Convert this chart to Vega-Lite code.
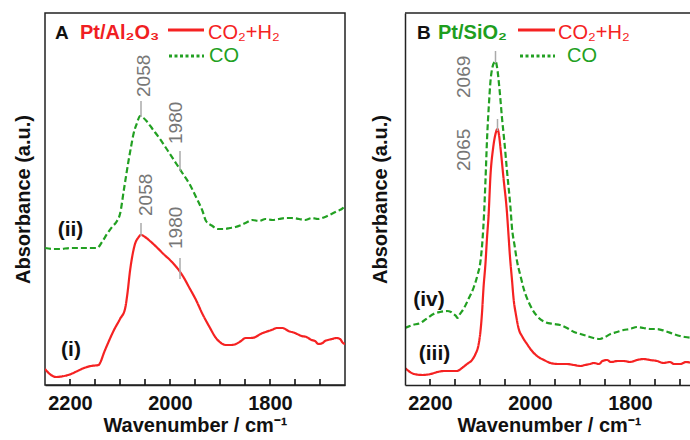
{
  "$schema": "https://vega.github.io/schema/vega-lite/v6.json",
  "padding": {"left": 12, "top": 12, "right": 0, "bottom": 0},
  "spacing": 24,
  "background": "white",
  "config": {
    "view": {"stroke": "#222", "strokeWidth": 1.5},
    "font": "Liberation Sans"
  },
  "datasets": {
    "curves": [
      {"panel": "A", "series": "CO2+H2", "wn": 2250, "a": 16},
      {"panel": "A", "series": "CO2+H2", "wn": 2238, "a": 10},
      {"panel": "A", "series": "CO2+H2", "wn": 2228, "a": 8},
      {"panel": "A", "series": "CO2+H2", "wn": 2212, "a": 9},
      {"panel": "A", "series": "CO2+H2", "wn": 2198, "a": 11},
      {"panel": "A", "series": "CO2+H2", "wn": 2185, "a": 14},
      {"panel": "A", "series": "CO2+H2", "wn": 2172, "a": 17},
      {"panel": "A", "series": "CO2+H2", "wn": 2158, "a": 19},
      {"panel": "A", "series": "CO2+H2", "wn": 2143, "a": 20},
      {"panel": "A", "series": "CO2+H2", "wn": 2138, "a": 24},
      {"panel": "A", "series": "CO2+H2", "wn": 2133, "a": 31},
      {"panel": "A", "series": "CO2+H2", "wn": 2123, "a": 43},
      {"panel": "A", "series": "CO2+H2", "wn": 2113, "a": 54},
      {"panel": "A", "series": "CO2+H2", "wn": 2100, "a": 66},
      {"panel": "A", "series": "CO2+H2", "wn": 2090, "a": 76},
      {"panel": "A", "series": "CO2+H2", "wn": 2085, "a": 92},
      {"panel": "A", "series": "CO2+H2", "wn": 2080, "a": 114},
      {"panel": "A", "series": "CO2+H2", "wn": 2075, "a": 130},
      {"panel": "A", "series": "CO2+H2", "wn": 2070, "a": 141},
      {"panel": "A", "series": "CO2+H2", "wn": 2064, "a": 147},
      {"panel": "A", "series": "CO2+H2", "wn": 2058, "a": 150},
      {"panel": "A", "series": "CO2+H2", "wn": 2050, "a": 148},
      {"panel": "A", "series": "CO2+H2", "wn": 2040, "a": 144},
      {"panel": "A", "series": "CO2+H2", "wn": 2027, "a": 138},
      {"panel": "A", "series": "CO2+H2", "wn": 2013, "a": 131},
      {"panel": "A", "series": "CO2+H2", "wn": 1998, "a": 124},
      {"panel": "A", "series": "CO2+H2", "wn": 1984, "a": 116},
      {"panel": "A", "series": "CO2+H2", "wn": 1972, "a": 107},
      {"panel": "A", "series": "CO2+H2", "wn": 1961, "a": 97},
      {"panel": "A", "series": "CO2+H2", "wn": 1948, "a": 85},
      {"panel": "A", "series": "CO2+H2", "wn": 1935, "a": 71},
      {"panel": "A", "series": "CO2+H2", "wn": 1921, "a": 58},
      {"panel": "A", "series": "CO2+H2", "wn": 1908, "a": 47},
      {"panel": "A", "series": "CO2+H2", "wn": 1898, "a": 42},
      {"panel": "A", "series": "CO2+H2", "wn": 1888, "a": 40},
      {"panel": "A", "series": "CO2+H2", "wn": 1878, "a": 40},
      {"panel": "A", "series": "CO2+H2", "wn": 1868, "a": 41},
      {"panel": "A", "series": "CO2+H2", "wn": 1858, "a": 44},
      {"panel": "A", "series": "CO2+H2", "wn": 1849, "a": 47},
      {"panel": "A", "series": "CO2+H2", "wn": 1839, "a": 47},
      {"panel": "A", "series": "CO2+H2", "wn": 1829, "a": 48},
      {"panel": "A", "series": "CO2+H2", "wn": 1819, "a": 51},
      {"panel": "A", "series": "CO2+H2", "wn": 1809, "a": 53},
      {"panel": "A", "series": "CO2+H2", "wn": 1797, "a": 55},
      {"panel": "A", "series": "CO2+H2", "wn": 1786, "a": 57},
      {"panel": "A", "series": "CO2+H2", "wn": 1775, "a": 57},
      {"panel": "A", "series": "CO2+H2", "wn": 1763, "a": 54},
      {"panel": "A", "series": "CO2+H2", "wn": 1750, "a": 52},
      {"panel": "A", "series": "CO2+H2", "wn": 1737, "a": 49},
      {"panel": "A", "series": "CO2+H2", "wn": 1727, "a": 48},
      {"panel": "A", "series": "CO2+H2", "wn": 1717, "a": 45},
      {"panel": "A", "series": "CO2+H2", "wn": 1710, "a": 44},
      {"panel": "A", "series": "CO2+H2", "wn": 1703, "a": 41},
      {"panel": "A", "series": "CO2+H2", "wn": 1695, "a": 42},
      {"panel": "A", "series": "CO2+H2", "wn": 1690, "a": 44},
      {"panel": "A", "series": "CO2+H2", "wn": 1684, "a": 45},
      {"panel": "A", "series": "CO2+H2", "wn": 1676, "a": 46},
      {"panel": "A", "series": "CO2+H2", "wn": 1667, "a": 47},
      {"panel": "A", "series": "CO2+H2", "wn": 1660, "a": 46},
      {"panel": "A", "series": "CO2+H2", "wn": 1654, "a": 42},
      {"panel": "A", "series": "CO2+H2", "wn": 1650, "a": 41},
      {"panel": "A", "series": "CO", "wn": 2250, "a": 137},
      {"panel": "A", "series": "CO", "wn": 2235, "a": 136},
      {"panel": "A", "series": "CO", "wn": 2220, "a": 136},
      {"panel": "A", "series": "CO", "wn": 2200, "a": 137},
      {"panel": "A", "series": "CO", "wn": 2180, "a": 137},
      {"panel": "A", "series": "CO", "wn": 2160, "a": 137},
      {"panel": "A", "series": "CO", "wn": 2146, "a": 137},
      {"panel": "A", "series": "CO", "wn": 2136, "a": 143},
      {"panel": "A", "series": "CO", "wn": 2126, "a": 151},
      {"panel": "A", "series": "CO", "wn": 2116, "a": 158},
      {"panel": "A", "series": "CO", "wn": 2106, "a": 164},
      {"panel": "A", "series": "CO", "wn": 2100, "a": 171},
      {"panel": "A", "series": "CO", "wn": 2092, "a": 196},
      {"panel": "A", "series": "CO", "wn": 2083, "a": 224},
      {"panel": "A", "series": "CO", "wn": 2078, "a": 238},
      {"panel": "A", "series": "CO", "wn": 2073, "a": 251},
      {"panel": "A", "series": "CO", "wn": 2066, "a": 262},
      {"panel": "A", "series": "CO", "wn": 2060, "a": 269},
      {"panel": "A", "series": "CO", "wn": 2053, "a": 267},
      {"panel": "A", "series": "CO", "wn": 2047, "a": 264},
      {"panel": "A", "series": "CO", "wn": 2035, "a": 256},
      {"panel": "A", "series": "CO", "wn": 2020, "a": 246},
      {"panel": "A", "series": "CO", "wn": 2004, "a": 234},
      {"panel": "A", "series": "CO", "wn": 1987, "a": 221},
      {"panel": "A", "series": "CO", "wn": 1974, "a": 211},
      {"panel": "A", "series": "CO", "wn": 1961, "a": 201},
      {"panel": "A", "series": "CO", "wn": 1948, "a": 188},
      {"panel": "A", "series": "CO", "wn": 1935, "a": 174},
      {"panel": "A", "series": "CO", "wn": 1928, "a": 164},
      {"panel": "A", "series": "CO", "wn": 1915, "a": 159},
      {"panel": "A", "series": "CO", "wn": 1905, "a": 156},
      {"panel": "A", "series": "CO", "wn": 1892, "a": 156},
      {"panel": "A", "series": "CO", "wn": 1880, "a": 157},
      {"panel": "A", "series": "CO", "wn": 1869, "a": 158},
      {"panel": "A", "series": "CO", "wn": 1858, "a": 160},
      {"panel": "A", "series": "CO", "wn": 1849, "a": 162},
      {"panel": "A", "series": "CO", "wn": 1835, "a": 165},
      {"panel": "A", "series": "CO", "wn": 1822, "a": 164},
      {"panel": "A", "series": "CO", "wn": 1809, "a": 166},
      {"panel": "A", "series": "CO", "wn": 1795, "a": 165},
      {"panel": "A", "series": "CO", "wn": 1782, "a": 166},
      {"panel": "A", "series": "CO", "wn": 1769, "a": 167},
      {"panel": "A", "series": "CO", "wn": 1756, "a": 167},
      {"panel": "A", "series": "CO", "wn": 1742, "a": 166},
      {"panel": "A", "series": "CO", "wn": 1730, "a": 165},
      {"panel": "A", "series": "CO", "wn": 1716, "a": 167},
      {"panel": "A", "series": "CO", "wn": 1704, "a": 166},
      {"panel": "A", "series": "CO", "wn": 1690, "a": 168},
      {"panel": "A", "series": "CO", "wn": 1677, "a": 171},
      {"panel": "A", "series": "CO", "wn": 1665, "a": 174},
      {"panel": "A", "series": "CO", "wn": 1654, "a": 177},
      {"panel": "A", "series": "CO", "wn": 1650, "a": 180},
      {"panel": "B", "series": "CO2+H2", "wn": 2250, "a": 17},
      {"panel": "B", "series": "CO2+H2", "wn": 2240, "a": 13},
      {"panel": "B", "series": "CO2+H2", "wn": 2232, "a": 11},
      {"panel": "B", "series": "CO2+H2", "wn": 2215, "a": 10},
      {"panel": "B", "series": "CO2+H2", "wn": 2199, "a": 11},
      {"panel": "B", "series": "CO2+H2", "wn": 2185, "a": 13},
      {"panel": "B", "series": "CO2+H2", "wn": 2172, "a": 14},
      {"panel": "B", "series": "CO2+H2", "wn": 2160, "a": 14},
      {"panel": "B", "series": "CO2+H2", "wn": 2146, "a": 14},
      {"panel": "B", "series": "CO2+H2", "wn": 2136, "a": 17},
      {"panel": "B", "series": "CO2+H2", "wn": 2126, "a": 21},
      {"panel": "B", "series": "CO2+H2", "wn": 2116, "a": 25},
      {"panel": "B", "series": "CO2+H2", "wn": 2109, "a": 31},
      {"panel": "B", "series": "CO2+H2", "wn": 2103, "a": 40},
      {"panel": "B", "series": "CO2+H2", "wn": 2099, "a": 54},
      {"panel": "B", "series": "CO2+H2", "wn": 2096, "a": 72},
      {"panel": "B", "series": "CO2+H2", "wn": 2093, "a": 97},
      {"panel": "B", "series": "CO2+H2", "wn": 2089, "a": 122},
      {"panel": "B", "series": "CO2+H2", "wn": 2086, "a": 147},
      {"panel": "B", "series": "CO2+H2", "wn": 2083, "a": 168},
      {"panel": "B", "series": "CO2+H2", "wn": 2079, "a": 210},
      {"panel": "B", "series": "CO2+H2", "wn": 2074, "a": 236},
      {"panel": "B", "series": "CO2+H2", "wn": 2069, "a": 251},
      {"panel": "B", "series": "CO2+H2", "wn": 2065, "a": 256},
      {"panel": "B", "series": "CO2+H2", "wn": 2062, "a": 250},
      {"panel": "B", "series": "CO2+H2", "wn": 2059, "a": 237},
      {"panel": "B", "series": "CO2+H2", "wn": 2053, "a": 207},
      {"panel": "B", "series": "CO2+H2", "wn": 2046, "a": 172},
      {"panel": "B", "series": "CO2+H2", "wn": 2043, "a": 150},
      {"panel": "B", "series": "CO2+H2", "wn": 2040, "a": 128},
      {"panel": "B", "series": "CO2+H2", "wn": 2036, "a": 105},
      {"panel": "B", "series": "CO2+H2", "wn": 2033, "a": 87},
      {"panel": "B", "series": "CO2+H2", "wn": 2028, "a": 70},
      {"panel": "B", "series": "CO2+H2", "wn": 2023, "a": 57},
      {"panel": "B", "series": "CO2+H2", "wn": 2015, "a": 48},
      {"panel": "B", "series": "CO2+H2", "wn": 2006, "a": 41},
      {"panel": "B", "series": "CO2+H2", "wn": 1996, "a": 34},
      {"panel": "B", "series": "CO2+H2", "wn": 1986, "a": 29},
      {"panel": "B", "series": "CO2+H2", "wn": 1972, "a": 25},
      {"panel": "B", "series": "CO2+H2", "wn": 1959, "a": 22},
      {"panel": "B", "series": "CO2+H2", "wn": 1945, "a": 21},
      {"panel": "B", "series": "CO2+H2", "wn": 1926, "a": 21},
      {"panel": "B", "series": "CO2+H2", "wn": 1912, "a": 20},
      {"panel": "B", "series": "CO2+H2", "wn": 1899, "a": 19},
      {"panel": "B", "series": "CO2+H2", "wn": 1890, "a": 20},
      {"panel": "B", "series": "CO2+H2", "wn": 1880, "a": 21},
      {"panel": "B", "series": "CO2+H2", "wn": 1872, "a": 22},
      {"panel": "B", "series": "CO2+H2", "wn": 1862, "a": 21},
      {"panel": "B", "series": "CO2+H2", "wn": 1855, "a": 24},
      {"panel": "B", "series": "CO2+H2", "wn": 1846, "a": 25},
      {"panel": "B", "series": "CO2+H2", "wn": 1838, "a": 23},
      {"panel": "B", "series": "CO2+H2", "wn": 1825, "a": 24},
      {"panel": "B", "series": "CO2+H2", "wn": 1812, "a": 24},
      {"panel": "B", "series": "CO2+H2", "wn": 1800, "a": 23},
      {"panel": "B", "series": "CO2+H2", "wn": 1786, "a": 25},
      {"panel": "B", "series": "CO2+H2", "wn": 1773, "a": 26},
      {"panel": "B", "series": "CO2+H2", "wn": 1760, "a": 25},
      {"panel": "B", "series": "CO2+H2", "wn": 1746, "a": 24},
      {"panel": "B", "series": "CO2+H2", "wn": 1733, "a": 22},
      {"panel": "B", "series": "CO2+H2", "wn": 1720, "a": 23},
      {"panel": "B", "series": "CO2+H2", "wn": 1712, "a": 21},
      {"panel": "B", "series": "CO2+H2", "wn": 1699, "a": 21},
      {"panel": "B", "series": "CO2+H2", "wn": 1688, "a": 23},
      {"panel": "B", "series": "CO2+H2", "wn": 1676, "a": 22},
      {"panel": "B", "series": "CO", "wn": 2250, "a": 57},
      {"panel": "B", "series": "CO", "wn": 2235, "a": 60},
      {"panel": "B", "series": "CO", "wn": 2219, "a": 62},
      {"panel": "B", "series": "CO", "wn": 2205, "a": 67},
      {"panel": "B", "series": "CO", "wn": 2193, "a": 71},
      {"panel": "B", "series": "CO", "wn": 2180, "a": 73},
      {"panel": "B", "series": "CO", "wn": 2166, "a": 74},
      {"panel": "B", "series": "CO", "wn": 2158, "a": 73},
      {"panel": "B", "series": "CO", "wn": 2153, "a": 71},
      {"panel": "B", "series": "CO", "wn": 2148, "a": 69},
      {"panel": "B", "series": "CO", "wn": 2145, "a": 67},
      {"panel": "B", "series": "CO", "wn": 2140, "a": 71},
      {"panel": "B", "series": "CO", "wn": 2133, "a": 76},
      {"panel": "B", "series": "CO", "wn": 2123, "a": 86},
      {"panel": "B", "series": "CO", "wn": 2113, "a": 97},
      {"panel": "B", "series": "CO", "wn": 2105, "a": 110},
      {"panel": "B", "series": "CO", "wn": 2099, "a": 124},
      {"panel": "B", "series": "CO", "wn": 2095, "a": 145},
      {"panel": "B", "series": "CO", "wn": 2092, "a": 170},
      {"panel": "B", "series": "CO", "wn": 2089, "a": 205},
      {"panel": "B", "series": "CO", "wn": 2086, "a": 245},
      {"panel": "B", "series": "CO", "wn": 2082, "a": 282},
      {"panel": "B", "series": "CO", "wn": 2079, "a": 304},
      {"panel": "B", "series": "CO", "wn": 2075, "a": 318},
      {"panel": "B", "series": "CO", "wn": 2071, "a": 323},
      {"panel": "B", "series": "CO", "wn": 2069, "a": 324},
      {"panel": "B", "series": "CO", "wn": 2066, "a": 318},
      {"panel": "B", "series": "CO", "wn": 2061, "a": 296},
      {"panel": "B", "series": "CO", "wn": 2056, "a": 267},
      {"panel": "B", "series": "CO", "wn": 2051, "a": 242},
      {"panel": "B", "series": "CO", "wn": 2046, "a": 214},
      {"panel": "B", "series": "CO", "wn": 2039, "a": 177},
      {"panel": "B", "series": "CO", "wn": 2036, "a": 157},
      {"panel": "B", "series": "CO", "wn": 2031, "a": 140},
      {"panel": "B", "series": "CO", "wn": 2026, "a": 124},
      {"panel": "B", "series": "CO", "wn": 2019, "a": 109},
      {"panel": "B", "series": "CO", "wn": 2013, "a": 97},
      {"panel": "B", "series": "CO", "wn": 2000, "a": 80},
      {"panel": "B", "series": "CO", "wn": 1986, "a": 69},
      {"panel": "B", "series": "CO", "wn": 1970, "a": 63},
      {"panel": "B", "series": "CO", "wn": 1953, "a": 61},
      {"panel": "B", "series": "CO", "wn": 1940, "a": 60},
      {"panel": "B", "series": "CO", "wn": 1926, "a": 57},
      {"panel": "B", "series": "CO", "wn": 1912, "a": 53},
      {"panel": "B", "series": "CO", "wn": 1899, "a": 51},
      {"panel": "B", "series": "CO", "wn": 1886, "a": 49},
      {"panel": "B", "series": "CO", "wn": 1873, "a": 47},
      {"panel": "B", "series": "CO", "wn": 1860, "a": 46},
      {"panel": "B", "series": "CO", "wn": 1850, "a": 48},
      {"panel": "B", "series": "CO", "wn": 1839, "a": 51},
      {"panel": "B", "series": "CO", "wn": 1826, "a": 53},
      {"panel": "B", "series": "CO", "wn": 1813, "a": 55},
      {"panel": "B", "series": "CO", "wn": 1800, "a": 56},
      {"panel": "B", "series": "CO", "wn": 1786, "a": 58},
      {"panel": "B", "series": "CO", "wn": 1773, "a": 57},
      {"panel": "B", "series": "CO", "wn": 1760, "a": 56},
      {"panel": "B", "series": "CO", "wn": 1746, "a": 56},
      {"panel": "B", "series": "CO", "wn": 1730, "a": 54},
      {"panel": "B", "series": "CO", "wn": 1713, "a": 51},
      {"panel": "B", "series": "CO", "wn": 1700, "a": 49},
      {"panel": "B", "series": "CO", "wn": 1690, "a": 48},
      {"panel": "B", "series": "CO", "wn": 1676, "a": 47}
    ],
    "axisTicks": [
      {"wn": 2200, "a": 0, "a2": 6}, {"wn": 2150, "a": 0, "a2": 6}, {"wn": 2100, "a": 0, "a2": 6},
      {"wn": 2050, "a": 0, "a2": 6}, {"wn": 2000, "a": 0, "a2": 6}, {"wn": 1950, "a": 0, "a2": 6},
      {"wn": 1900, "a": 0, "a2": 6}, {"wn": 1850, "a": 0, "a2": 6}, {"wn": 1800, "a": 0, "a2": 6},
      {"wn": 1750, "a": 0, "a2": 6}, {"wn": 1700, "a": 0, "a2": 6}
    ],
    "peakTicks": [
      {"panel": "A", "wn": 2058, "a": 268, "a2": 284},
      {"panel": "A", "wn": 1980, "a": 214, "a2": 234},
      {"panel": "A", "wn": 2058, "a": 149, "a2": 162},
      {"panel": "A", "wn": 1980, "a": 106, "a2": 127},
      {"panel": "B", "wn": 2069, "a": 322, "a2": 334},
      {"panel": "B", "wn": 2065, "a": 254, "a2": 266}
    ],
    "peakLabels": [
      {"panel": "A", "wn": 2052, "a": 288, "label": "2058"},
      {"panel": "A", "wn": 1988, "a": 241, "label": "1980"},
      {"panel": "A", "wn": 2048, "a": 169, "label": "2058"},
      {"panel": "A", "wn": 1988, "a": 136, "label": "1980"},
      {"panel": "B", "wn": 2132, "a": 287, "label": "2069"},
      {"panel": "B", "wn": 2132, "a": 214, "label": "2065"}
    ],
    "curveLabels": [
      {"panel": "A", "wn": 2199, "a": 155, "label": "(ii)"},
      {"panel": "A", "wn": 2198, "a": 35, "label": "(i)"},
      {"panel": "B", "wn": 2202, "a": 85, "label": "(iv)"},
      {"panel": "B", "wn": 2191, "a": 31, "label": "(iii)"}
    ],
    "headings": [
      {"panel": "A", "role": "letter", "wn": 2230, "a": 346, "label": "A"},
      {"panel": "A", "role": "catalyst", "wn": 2180, "a": 346, "label": "Pt/Al₂O₃"},
      {"panel": "B", "role": "letter", "wn": 2226, "a": 346, "label": "B"},
      {"panel": "B", "role": "catalyst", "wn": 2184, "a": 346, "label": "Pt/SiO₂"}
    ],
    "keys": [
      {"panel": "A", "series": "CO2+H2", "wn": 2004, "wn2": 1932, "a": 355},
      {"panel": "A", "series": "CO", "wn": 2002, "wn2": 1932, "a": 329},
      {"panel": "B", "series": "CO2+H2", "wn": 2024, "wn2": 1950, "a": 355},
      {"panel": "B", "series": "CO", "wn": 2020, "wn2": 1950, "a": 329}
    ],
    "keyLabels": [
      {"panel": "A", "series": "CO2+H2", "wn": 1924, "a": 346, "label": "CO₂+H₂"},
      {"panel": "A", "series": "CO", "wn": 1922, "a": 323, "label": "CO"},
      {"panel": "B", "series": "CO2+H2", "wn": 1944, "a": 346, "label": "CO₂+H₂"},
      {"panel": "B", "series": "CO", "wn": 1926, "a": 323, "label": "CO"}
    ],
    "frame": [
      {"panel": "B", "wn": 2250, "wn2": 1676, "a": 372}
    ]
  },
  "hconcat": [
    {
      "width": 300,
      "height": 372,
      "encoding": {
        "x": {"field": "wn", "type": "quantitative",
          "scale": {"domain": [1650, 2250], "reverse": true, "nice": false, "zero": false},
          "axis": {"title": "Wavenumber / cm⁻¹", "values": [2200, 2000, 1800],
            "format": "d", "grid": false, "ticks": false, "zindex": 1,
            "domainColor": "#222", "domainWidth": 1.5,
            "labelFont": "Liberation Sans", "labelFontWeight": "bold", "labelFontSize": 20, "labelColor": "#111", "labelPadding": 8,
            "labelOverlap": false, "labelFlush": false,
            "titleFont": "Liberation Sans", "titleFontWeight": "bold", "titleFontSize": 20, "titleColor": "#111", "titlePadding": 2}},
        "y": {"field": "a", "type": "quantitative",
          "scale": {"domain": [0, 372], "nice": false, "zero": false},
          "axis": {"title": "Absorbance (a.u.)", "labels": false, "ticks": false, "domain": false, "grid": false,
            "titleFont": "Liberation Sans", "titleFontWeight": "bold", "titleFontSize": 20, "titleColor": "#111", "titlePadding": 12}}
      },
      "layer": [
        {"data": {"name": "axisTicks"},
          "mark": {"type": "rule", "strokeWidth": 1.6, "color": "#111"},
          "encoding": {"y2": {"field": "a2"}}},
        {"data": {"name": "curves"}, "transform": [{"filter": "datum.panel === 'A'"}],
          "mark": {"type": "line", "clip": true, "interpolate": "monotone", "strokeWidth": 2.2},
          "encoding": {
            "color": {"field": "series", "type": "nominal", "scale": {"domain": ["CO2+H2", "CO"], "range": ["#f52222", "#22a022"]}, "legend": null},
            "strokeDash": {"field": "series", "type": "nominal", "scale": {"domain": ["CO2+H2", "CO"], "range": [[1, 0], [6, 3]]}, "legend": null}
          }},
        {"data": {"name": "peakTicks"}, "transform": [{"filter": "datum.panel === 'A'"}],
          "mark": {"type": "rule", "color": "#aaaaaa", "strokeWidth": 1.5},
          "encoding": {"y2": {"field": "a2"}}},
        {"data": {"name": "peakLabels"}, "transform": [{"filter": "datum.panel === 'A'"}],
          "mark": {"type": "text", "angle": 270, "align": "left", "baseline": "middle", "font": "Liberation Sans", "fontSize": 19, "color": "#777777"},
          "encoding": {"text": {"field": "label"}}},
        {"data": {"name": "curveLabels"}, "transform": [{"filter": "datum.panel === 'A'"}],
          "mark": {"type": "text", "align": "center", "baseline": "middle", "font": "Liberation Sans", "fontWeight": "bold", "fontSize": 21, "color": "#111"},
          "encoding": {"text": {"field": "label"}}},
        {"data": {"name": "headings"}, "transform": [{"filter": "datum.panel === 'A' && datum.role === 'letter'"}],
          "mark": {"type": "text", "align": "left", "baseline": "alphabetic", "font": "Liberation Sans", "fontWeight": "bold", "fontSize": 19, "color": "#111"},
          "encoding": {"text": {"field": "label"}}},
        {"data": {"name": "headings"}, "transform": [{"filter": "datum.panel === 'A' && datum.role === 'catalyst'"}],
          "mark": {"type": "text", "align": "left", "baseline": "alphabetic", "font": "Liberation Sans", "fontWeight": "bold", "fontSize": 20, "color": "#f01e23"},
          "encoding": {"text": {"field": "label"}}},
        {"data": {"name": "keys"}, "transform": [{"filter": "datum.panel === 'A' && datum.series === 'CO2+H2'"}],
          "mark": {"type": "rule", "strokeWidth": 3},
          "encoding": {"x2": {"field": "wn2"}, "color": {"field": "series", "type": "nominal", "legend": null}}},
        {"data": {"name": "keys"}, "transform": [{"filter": "datum.panel === 'A' && datum.series === 'CO'"}],
          "mark": {"type": "rule", "strokeWidth": 3, "strokeDash": [3, 2.5]},
          "encoding": {"x2": {"field": "wn2"}, "color": {"field": "series", "type": "nominal", "legend": null}}},
        {"data": {"name": "keyLabels"}, "transform": [{"filter": "datum.panel === 'A'"}],
          "mark": {"type": "text", "align": "left", "baseline": "alphabetic", "font": "Liberation Sans", "fontSize": 20},
          "encoding": {"text": {"field": "label"}, "color": {"field": "series", "type": "nominal", "legend": null}}}
      ]
    },
    {
      "width": 287,
      "height": 372,
      "view": {"stroke": null},
      "encoding": {
        "x": {"field": "wn", "type": "quantitative",
          "scale": {"domain": [1676, 2250], "reverse": true, "nice": false, "zero": false},
          "axis": {"title": "Wavenumber / cm⁻¹", "values": [2200, 2000, 1800],
            "format": "d", "grid": false, "ticks": false, "zindex": 1,
            "domainColor": "#222", "domainWidth": 1.5,
            "labelFont": "Liberation Sans", "labelFontWeight": "bold", "labelFontSize": 20, "labelColor": "#111", "labelPadding": 8,
            "labelOverlap": false, "labelFlush": false,
            "titleFont": "Liberation Sans", "titleFontWeight": "bold", "titleFontSize": 20, "titleColor": "#111", "titlePadding": 2,
            "titleX": 144}},
        "y": {"field": "a", "type": "quantitative",
          "scale": {"domain": [0, 372], "nice": false, "zero": false},
          "axis": {"title": "Absorbance (a.u.)", "labels": false, "ticks": false, "domain": true, "domainColor": "#222", "domainWidth": 1.5, "grid": false, "zindex": 1,
            "titleFont": "Liberation Sans", "titleFontWeight": "bold", "titleFontSize": 20, "titleColor": "#111", "titlePadding": 15}}
      },
      "layer": [
        {"data": {"name": "axisTicks"},
          "mark": {"type": "rule", "strokeWidth": 1.6, "color": "#111"},
          "encoding": {"y2": {"field": "a2"}}},
        {"data": {"name": "curves"}, "transform": [{"filter": "datum.panel === 'B'"}],
          "mark": {"type": "line", "clip": true, "interpolate": "monotone", "strokeWidth": 2.2},
          "encoding": {
            "color": {"field": "series", "type": "nominal", "scale": {"domain": ["CO2+H2", "CO"], "range": ["#f52222", "#22a022"]}, "legend": null},
            "strokeDash": {"field": "series", "type": "nominal", "scale": {"domain": ["CO2+H2", "CO"], "range": [[1, 0], [6, 3]]}, "legend": null}
          }},
        {"data": {"name": "frame"},
          "mark": {"type": "rule", "color": "#222", "strokeWidth": 1.5},
          "encoding": {"x2": {"field": "wn2"}}},
        {"data": {"name": "peakTicks"}, "transform": [{"filter": "datum.panel === 'B'"}],
          "mark": {"type": "rule", "color": "#aaaaaa", "strokeWidth": 1.5},
          "encoding": {"y2": {"field": "a2"}}},
        {"data": {"name": "peakLabels"}, "transform": [{"filter": "datum.panel === 'B'"}],
          "mark": {"type": "text", "angle": 270, "align": "left", "baseline": "middle", "font": "Liberation Sans", "fontSize": 19, "color": "#777777"},
          "encoding": {"text": {"field": "label"}}},
        {"data": {"name": "curveLabels"}, "transform": [{"filter": "datum.panel === 'B'"}],
          "mark": {"type": "text", "align": "center", "baseline": "middle", "font": "Liberation Sans", "fontWeight": "bold", "fontSize": 21, "color": "#111"},
          "encoding": {"text": {"field": "label"}}},
        {"data": {"name": "headings"}, "transform": [{"filter": "datum.panel === 'B' && datum.role === 'letter'"}],
          "mark": {"type": "text", "align": "left", "baseline": "alphabetic", "font": "Liberation Sans", "fontWeight": "bold", "fontSize": 19, "color": "#111"},
          "encoding": {"text": {"field": "label"}}},
        {"data": {"name": "headings"}, "transform": [{"filter": "datum.panel === 'B' && datum.role === 'catalyst'"}],
          "mark": {"type": "text", "align": "left", "baseline": "alphabetic", "font": "Liberation Sans", "fontWeight": "bold", "fontSize": 20, "color": "#1e9e1e"},
          "encoding": {"text": {"field": "label"}}},
        {"data": {"name": "keys"}, "transform": [{"filter": "datum.panel === 'B' && datum.series === 'CO2+H2'"}],
          "mark": {"type": "rule", "strokeWidth": 3},
          "encoding": {"x2": {"field": "wn2"}, "color": {"field": "series", "type": "nominal", "legend": null}}},
        {"data": {"name": "keys"}, "transform": [{"filter": "datum.panel === 'B' && datum.series === 'CO'"}],
          "mark": {"type": "rule", "strokeWidth": 3, "strokeDash": [3, 2.5]},
          "encoding": {"x2": {"field": "wn2"}, "color": {"field": "series", "type": "nominal", "legend": null}}},
        {"data": {"name": "keyLabels"}, "transform": [{"filter": "datum.panel === 'B'"}],
          "mark": {"type": "text", "align": "left", "baseline": "alphabetic", "font": "Liberation Sans", "fontSize": 20},
          "encoding": {"text": {"field": "label"}, "color": {"field": "series", "type": "nominal", "legend": null}}}
      ]
    }
  ]
}
